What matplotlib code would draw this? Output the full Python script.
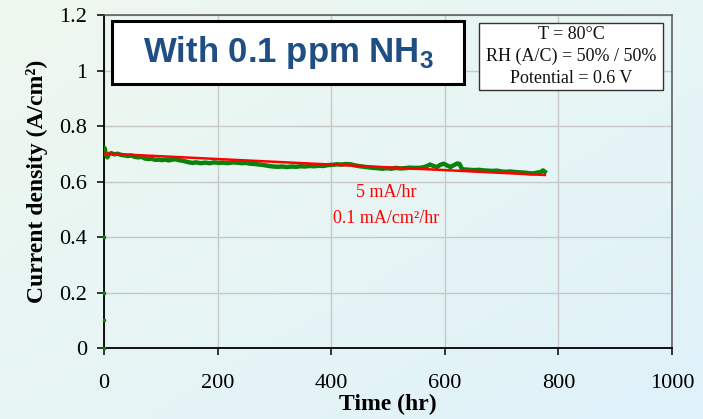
import matplotlib
matplotlib.use("Agg")
import matplotlib.pyplot as plt
import numpy as np
from matplotlib.patches import Rectangle

plt.rcParams["mathtext.fontset"] = "custom"
plt.rcParams["mathtext.rm"] = "Liberation Sans"
plt.rcParams["mathtext.bf"] = "Liberation Sans:bold"

# durability run at 0.6 V with 0.1 ppm NH3 in the anode feed
time_hr = [0, 1, 3, 6, 9, 13, 18, 24, 30, 36, 42, 48, 54, 60, 66, 72, 78, 84, 90, 96,
           102, 108, 114, 120, 126, 132, 138, 144, 150, 156, 162, 170, 178, 186, 194,
           202, 210, 218, 226, 234, 242, 250, 258, 266, 274, 282, 290, 298, 306, 314,
           322, 330, 338, 346, 354, 362, 370, 378, 386, 394, 402, 410, 418, 426, 434,
           442, 450, 458, 466, 474, 482, 490, 498, 506, 514, 522, 530, 538, 546, 554,
           562, 568, 574, 580, 586, 592, 598, 604, 610, 616, 622, 626, 630, 636, 644,
           652, 660, 668, 676, 684, 692, 700, 708, 716, 724, 732, 740, 748, 756, 762,
           768, 773, 776]
current_density = [0.705, 0.722, 0.700, 0.688, 0.700, 0.703, 0.699, 0.701, 0.697, 0.695,
                   0.693, 0.695, 0.690, 0.688, 0.690, 0.684, 0.682, 0.683, 0.679, 0.680,
                   0.678, 0.680, 0.677, 0.680, 0.681, 0.678, 0.676, 0.673, 0.670, 0.668,
                   0.670, 0.667, 0.669, 0.667, 0.670, 0.668, 0.669, 0.667, 0.670, 0.669,
                   0.667, 0.668, 0.665, 0.664, 0.662, 0.660, 0.657, 0.655, 0.654, 0.655,
                   0.653, 0.655, 0.654, 0.656, 0.655, 0.657, 0.656, 0.658, 0.657, 0.660,
                   0.661, 0.663, 0.662, 0.664, 0.663, 0.659, 0.656, 0.654, 0.652, 0.650,
                   0.649, 0.647, 0.649, 0.647, 0.650, 0.648, 0.649, 0.651, 0.650, 0.650,
                   0.652, 0.656, 0.662, 0.657, 0.653, 0.661, 0.665, 0.659, 0.653, 0.660,
                   0.666, 0.664, 0.646, 0.644, 0.643, 0.642, 0.643, 0.641, 0.640, 0.639,
                   0.640, 0.637, 0.636, 0.637, 0.635, 0.634, 0.633, 0.631, 0.630, 0.633,
                   0.634, 0.641, 0.636]

# ramp-up points logged at t = 0
startup_density = [0.0, 0.1, 0.2, 0.4]

# linear fit: 5 mA/hr on a 50 cm2 cell -> 0.1 mA/cm2/hr
fit_start = 0.702
fit_slope_ma_cm2_hr = 0.1
fit_end_hr = 776

xticks = [0, 200, 400, 600, 800, 1000]
yticks = [0, 0.2, 0.4, 0.6, 0.8, 1.0, 1.2]
ytick_labels = ["0", "0.2", "0.4", "0.6", "0.8", "1", "1.2"]

W, H = 703, 419
fig = plt.figure(figsize=(W / 100, H / 100), dpi=100)

# soft green-to-blue diagonal background
bg = fig.add_axes([0, 0, 1, 1])
gx, gy = np.meshgrid(np.linspace(0, 1, 200), np.linspace(0, 1, 120))
mix = np.clip(0.55 * gx + 0.55 * gy, 0, 1)[..., None]
c0 = np.array([239, 248, 238]) / 255
c1 = np.array([224, 242, 249]) / 255
bg.imshow(c0 * (1 - mix) + c1 * mix, aspect="auto", extent=[0, 1, 1, 0])
bg.axis("off")

ax = fig.add_axes([104 / W, 1 - 348 / H, 568 / W, 332.5 / H])
ax.set_facecolor("none")

fit_t = np.array([0, fit_end_hr])
fit_v = fit_start - fit_slope_ma_cm2_hr / 1000 * fit_t

ax.plot(time_hr, current_density, color="#0b820b", lw=3.2, zorder=3)
ax.plot([0] * len(startup_density), startup_density, "s", color="#0b820b", ms=2, zorder=4,
        clip_on=False)
ax.plot(fit_t, fit_v, color="#ff0000", lw=1.8, zorder=4)

ax.set_xlim(0, 1000)
ax.set_ylim(0, 1.2)
ax.set_xticks(xticks)
ax.set_yticks(yticks)
ax.set_yticklabels(ytick_labels)
ax.grid(True, color="#c8c8c8", lw=1.0)
ax.set_axisbelow(True)

for side in ["left", "bottom"]:
    ax.spines[side].set_color("black")
    ax.spines[side].set_linewidth(1.3)
for side in ["top", "right"]:
    ax.spines[side].set_color("#555555")
    ax.spines[side].set_linewidth(1.1)

ax.tick_params(direction="out", length=5, width=1.1, color="black",
               labelsize=16, labelfontfamily="Liberation Serif")
ax.tick_params(axis="x", pad=14)
ax.tick_params(axis="y", pad=7)

ax.set_xlabel("Time (hr)", fontsize=17, fontweight="bold", family="Liberation Serif", labelpad=0)
ax.set_ylabel("Current density (A/cm²)", fontsize=17, fontweight="bold",
              family="Liberation Serif", labelpad=8)

# title box
ax.add_patch(Rectangle((0.014, 0.794), 0.62, 0.189, transform=ax.transAxes,
                       facecolor="white", edgecolor="black", lw=2.2, zorder=6))
ax.text(0.324, 0.888, r"With 0.1 ppm NH$_\mathbf{3}$", transform=ax.transAxes,
        ha="center", va="center", fontsize=25, fontweight="bold",
        family="Liberation Sans", color="#1f4e84", zorder=7)

# operating conditions box
ax.add_patch(Rectangle((0.660, 0.776), 0.324, 0.201, transform=ax.transAxes,
                       facecolor="white", edgecolor="#333333", lw=1.0, zorder=6))
for yy, line in zip([0.944, 0.876, 0.812],
                    ["T = 80°C", "RH (A/C) = 50% / 50%", "Potential = 0.6 V"]):
    ax.text(0.822, yy, line, transform=ax.transAxes, ha="center", va="center",
            fontsize=13, family="Liberation Serif", color="#111111", zorder=7)

ax.text(497, 0.56, "5 mA/hr", ha="center", va="center", fontsize=13,
        family="Liberation Serif", color="#ff0000", zorder=5)
ax.text(497, 0.466, "0.1 mA/cm²/hr", ha="center", va="center", fontsize=13,
        family="Liberation Serif", color="#ff0000", zorder=5)

fig.savefig("out.png", dpi=100)
